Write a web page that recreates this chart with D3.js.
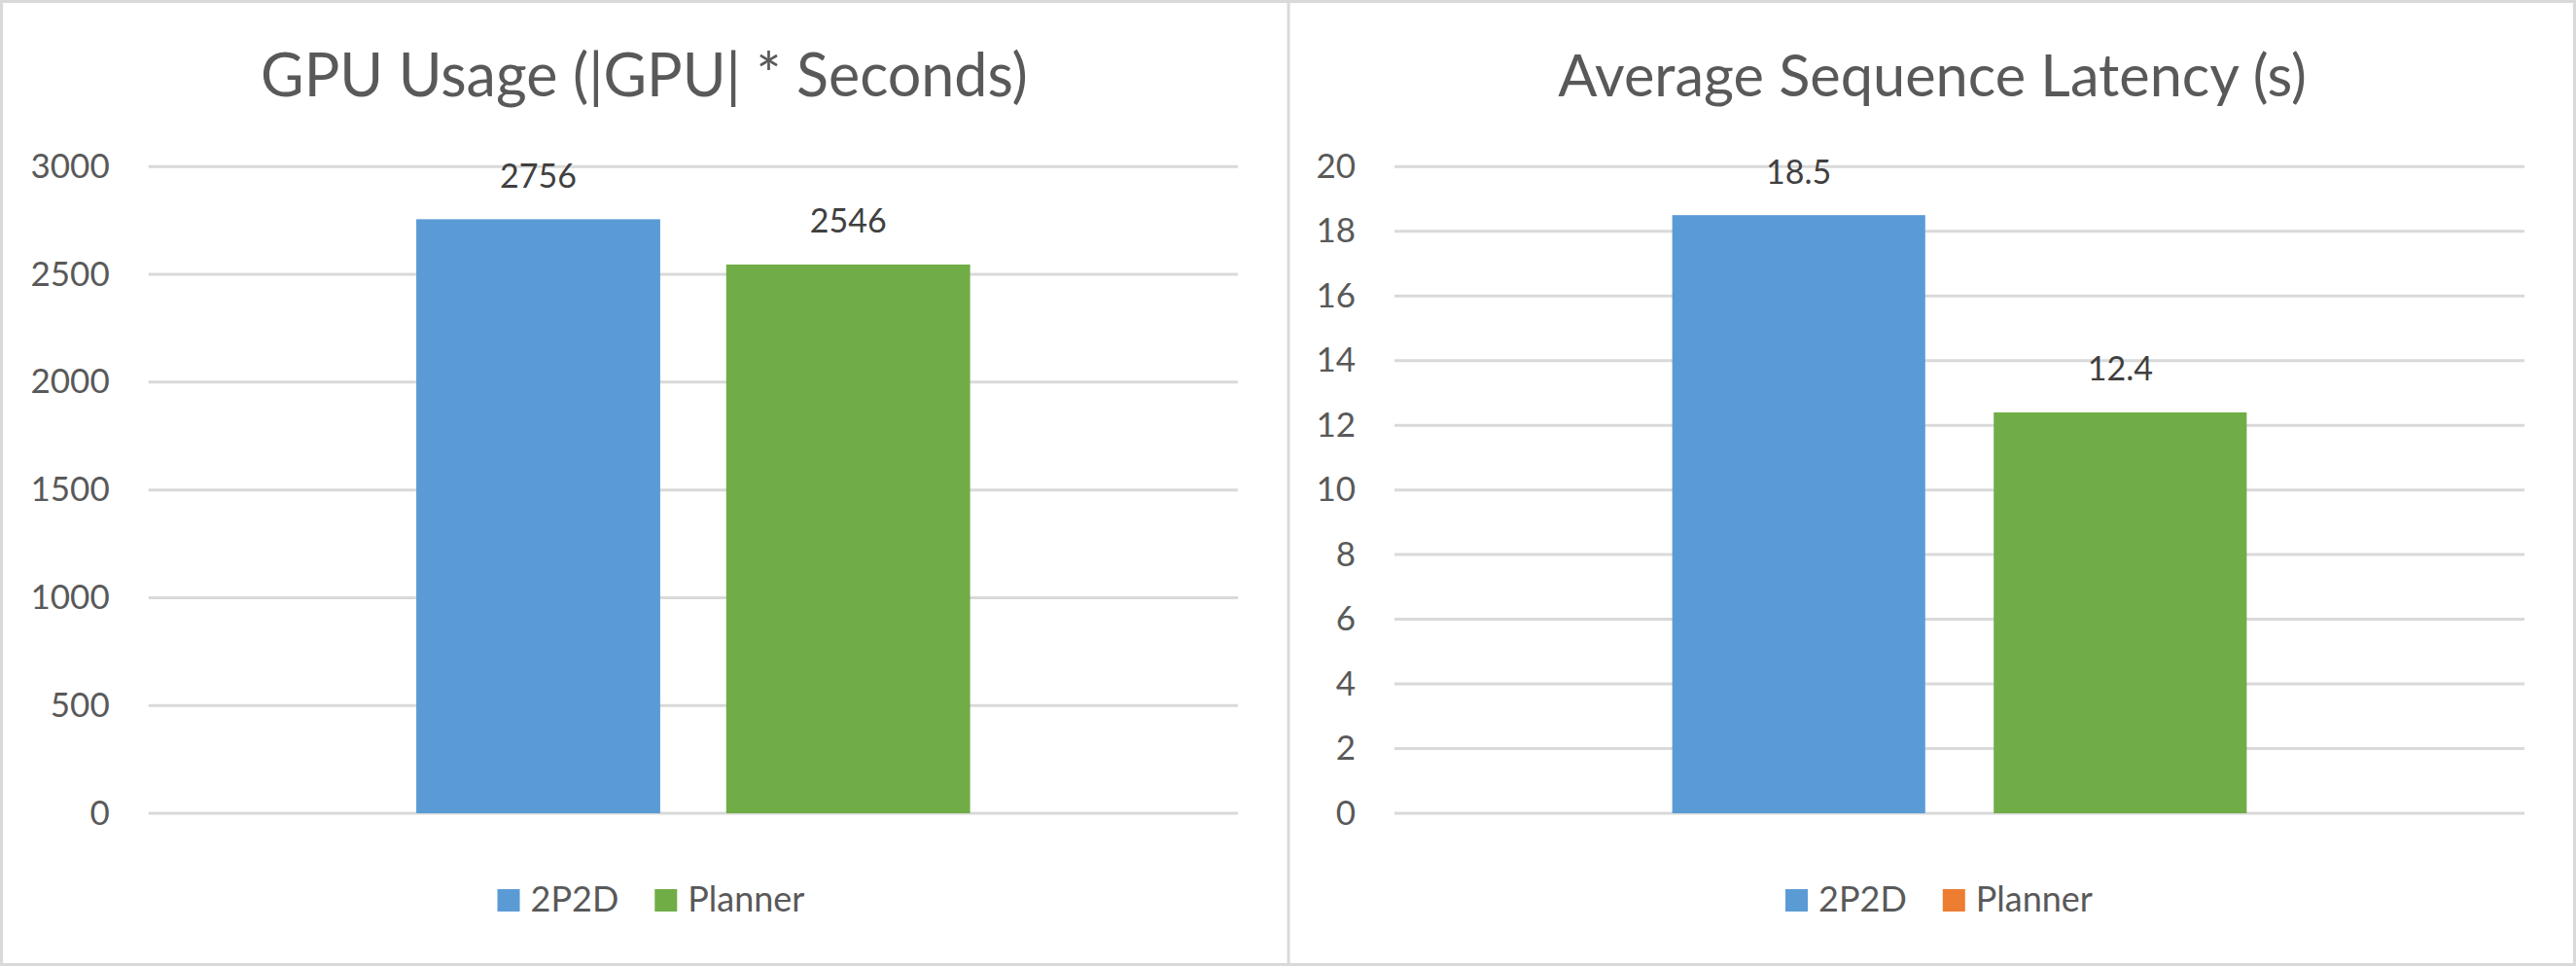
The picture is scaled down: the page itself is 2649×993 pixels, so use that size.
<!DOCTYPE html>
<html>
<head>
<meta charset="utf-8">
<script src="https://cdn.jsdelivr.net/npm/d3@7"></script>
<style>
  html, body { margin: 0; padding: 0; background: #ffffff; }
  svg { display: block; font-family: Lato, "Open Sans", sans-serif; }
</style>
</head>
<body>
<svg id="chart" width="2649" height="993"></svg>
<script>
// ---- Data ----
const seriesNames = ["2P2D", "Planner"];
const gpuUsageValues = [2756, 2546];
const latencyValues = [18.5, 12.4];
const gpuTicks = [0, 500, 1000, 1500, 2000, 2500, 3000];
const latencyTicks = [0, 2, 4, 6, 8, 10, 12, 14, 16, 18, 20];
const gpuTitle = "GPU Usage (|GPU| * Seconds)";
const latencyTitle = "Average Sequence Latency (s)";
const barColors = ["#5b9bd5", "#70ad47"];
const leftLegendColors = ["#5b9bd5", "#70ad47"];
const rightLegendColors = ["#5b9bd5", "#ed7d31"];

// ---- Layout ----
const W = 2649, H = 993;
const TEXT = "#595959", GRID = "#d9d9d9";
const svg = d3.select("#chart");

svg.append("rect").attr("x", 0).attr("y", 0).attr("width", W).attr("height", H).attr("fill", "#fff");

const panels = [
  { x0: 0, x1: 1325, plotL: 152.7, plotR: 1273, title: gpuTitle, titleSize: 61, values: gpuUsageValues,
    ticks: gpuTicks, max: 3000, fmt: d3.format("d"), legendColors: leftLegendColors },
  { x0: 1325, x1: 2649, plotL: 1434, plotR: 2596, title: latencyTitle, titleSize: 59.5, values: latencyValues,
    ticks: latencyTicks, max: 20, fmt: d3.format(".1f"), legendColors: rightLegendColors }
];

const plotTop = 171.3, plotBottom = 836;

panels.forEach(p => {
  const g = svg.append("g");
  const cx = (p.x0 + p.x1) / 2;

  // title
  g.append("text").attr("x", cx).attr("y", 98.5).attr("text-anchor", "middle")
    .attr("fill", TEXT).attr("font-size", p.titleSize).text(p.title);

  const y = d3.scaleLinear().domain([0, p.max]).range([plotBottom, plotTop]);
  const x = d3.scaleBand().domain(seriesNames).range([p.plotL, p.plotR])
    .paddingInner(0.213).paddingOuter(0.864);

  // gridlines
  g.selectAll("line.grid").data(p.ticks).join("line").attr("class", "grid")
    .attr("x1", p.plotL).attr("x2", p.plotR)
    .attr("y1", d => y(d)).attr("y2", d => y(d))
    .attr("stroke", GRID).attr("stroke-width", 3);

  // y-axis labels
  g.selectAll("text.tick").data(p.ticks).join("text").attr("class", "tick")
    .attr("x", p.plotL - 40).attr("y", d => y(d) + 11.5)
    .attr("text-anchor", "end").attr("fill", TEXT).attr("font-size", 35)
    .text(d => d);

  // bars
  g.selectAll("rect.bar").data(p.values).join("rect").attr("class", "bar")
    .attr("x", (d, i) => x(seriesNames[i])).attr("width", x.bandwidth())
    .attr("y", d => y(d)).attr("height", d => plotBottom - y(d))
    .attr("fill", (d, i) => barColors[i]);

  // data labels
  g.selectAll("text.val").data(p.values).join("text").attr("class", "val")
    .attr("x", (d, i) => x(seriesNames[i]) + x.bandwidth() / 2)
    .attr("y", d => y(d) - 32.5).attr("text-anchor", "middle")
    .attr("fill", "#404040").attr("font-size", 34)
    .text(d => p.fmt(d));

  // legend
  const lg = g.append("g");
  let pos = 0;
  seriesNames.forEach((name, i) => {
    lg.append("rect").attr("x", pos).attr("y", 914).attr("width", 23).attr("height", 23)
      .attr("fill", p.legendColors[i]);
    const t = lg.append("text").attr("x", pos + 34).attr("y", 936.7)
      .attr("fill", TEXT).attr("font-size", 36).text(name);
    pos += 34 + t.node().getComputedTextLength() + 37;
  });
  const legendW = pos - 37;
  lg.attr("transform", `translate(${cx + 7 - legendW / 2},0)`);
});

// borders
svg.append("rect").attr("x", 1.5).attr("y", 1.5).attr("width", W - 3).attr("height", H - 3)
  .attr("fill", "none").attr("stroke", GRID).attr("stroke-width", 3);
svg.append("line").attr("x1", 1325).attr("x2", 1325).attr("y1", 0).attr("y2", H)
  .attr("stroke", GRID).attr("stroke-width", 3);
</script>
</body>
</html>
